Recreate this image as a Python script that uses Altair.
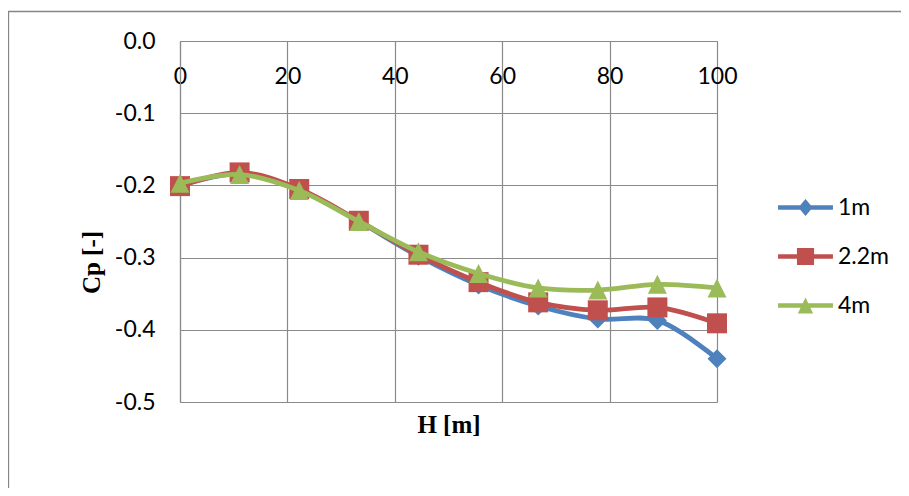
import altair as alt
import pandas as pd

# ---- data ----
H = [0, 11.1, 22.2, 33.3, 44.4, 55.6, 66.7, 77.8, 88.9, 100]
cp_1m = [-0.200, -0.184, -0.206, -0.250, -0.298, -0.338, -0.367, -0.385, -0.387, -0.440]
cp_2_2m = [-0.201, -0.182, -0.205, -0.249, -0.296, -0.334, -0.362, -0.373, -0.369, -0.391]
cp_4m = [-0.197, -0.185, -0.207, -0.250, -0.292, -0.322, -0.342, -0.345, -0.337, -0.342]

series_names = ["1m", "2.2m", "4m"]
series_values = [cp_1m, cp_2_2m, cp_4m]
colors = ["#4F81BD", "#C0504D", "#9BBB59"]

x_ticks = [0, 20, 40, 60, 80, 100]
y_ticks = [-0.5, -0.4, -0.3, -0.2, -0.1, 0.0]

rows = []
for name, vals in zip(series_names, series_values):
    for h, v in zip(H, vals):
        rows.append({"H": h, "Cp": v, "series": name})
df = pd.DataFrame(rows)

# marker shapes for the plot (paths scaled by sqrt(size)/2)
tri_path = "M0,-1L1,1L-1,1Z"
marker_shapes = ["diamond", "square", tri_path]
marker_sizes = [361, 400, 361]

# legend symbols: line + marker
bar = "M-3.05,-0.25L3.05,-0.25L3.05,0.25L-3.05,0.25Z "
legend_paths = [
    bar + "M0,-0.95L0.8,0L0,0.95L-0.8,0Z",
    bar + "M-0.95,-0.95L0.95,-0.95L0.95,0.95L-0.95,0.95Z",
    bar + "M0,-0.9L0.85,0.9L-0.85,0.9Z",
]

GRID = "#8a8a8a"
LABEL_FONT = "Lato"
TITLE_FONT = "Liberation Serif"
W, Hh = 537, 361

x_enc = alt.X(
    "H:Q",
    scale=alt.Scale(domain=[0, 100], nice=False, zero=False),
    axis=alt.Axis(
        orient="top", values=x_ticks, grid=True, gridColor=GRID, gridWidth=1.2,
        domainColor=GRID, domainWidth=1.2, ticks=False, tickSize=0,
        labelPadding=-24, labelBaseline="top", labelFont=LABEL_FONT,
        labelFontSize=23, labelColor="black", labelAngle=0, labelFlush=False,
        title="H [m]", titleFont=TITLE_FONT, titleFontWeight="bold",
        titleFontSize=25, titleColor="black", titleX=W / 2, titleY=391,
        titleBaseline="alphabetic", titleAlign="center",
    ),
)
y_enc = alt.Y(
    "Cp:Q",
    scale=alt.Scale(domain=[-0.5, 0], nice=False, zero=False),
    axis=alt.Axis(
        values=y_ticks, grid=True, gridColor=GRID, gridWidth=1.2,
        domainColor=GRID, domainWidth=1.2, ticks=False, tickSize=0,
        labelPadding=25, labelFont=LABEL_FONT, labelFontSize=23,
        labelColor="black",
        labelExpr="replace(format(datum.value, '.1f'), '\u2212', '-')",
        title="Cp [-]", titleFont=TITLE_FONT, titleFontWeight="bold",
        titleFontSize=25, titleColor="black", titleAngle=270, titleX=-81,
        titleY=221, titleBaseline="alphabetic", titleAlign="center",
    ),
)

base = alt.Chart(df)
layers = []
for name, col, shp, sz in zip(series_names, colors, marker_shapes, marker_sizes):
    f = alt.datum.series == name
    layers.append(
        base.transform_filter(f).mark_line(
            color=col, strokeWidth=4.8, interpolate="catmull-rom"
        ).encode(x=x_enc, y=y_enc)
    )
    layers.append(
        base.transform_filter(f).mark_point(
            filled=True, opacity=1, color=col, shape=shp, size=sz
        ).encode(x=x_enc, y=y_enc)
    )

legend = alt.Legend(
    orient="none", legendX=614, legendY=155, title=None, padding=0,
    labelFont=LABEL_FONT, labelFontSize=23, labelColor="black",
    symbolSize=324, symbolStrokeWidth=0, rowPadding=25, labelOffset=21,
)
legend_df = pd.DataFrame({"series": series_names})
carrier = alt.Chart(legend_df).mark_point(
    filled=True, opacity=1, clip=True, size=324
).encode(
    x=alt.value(-500), y=alt.value(-500),
    color=alt.Color("series:N", scale=alt.Scale(domain=series_names, range=colors), legend=legend),
    shape=alt.Shape("series:N", scale=alt.Scale(domain=series_names, range=legend_paths), legend=legend),
)

frame = alt.Chart(pd.DataFrame({"k": [0]})).mark_rect(
    fill="transparent", stroke="#868686", strokeWidth=1.3
).encode(
    x=alt.value(-171.5), x2=alt.value(800), y=alt.value(-29.5), y2=alt.value(600)
)

chart = alt.layer(frame, *layers, carrier).properties(
    width=W, height=Hh,
    autosize=alt.AutoSizeParams(type="none"),
    padding={"left": 172, "top": 33, "right": 184, "bottom": 86},
).configure_view(stroke=None).configure(background="white")

chart.save("out.html", embed_options={"renderer": "svg", "actions": False})
